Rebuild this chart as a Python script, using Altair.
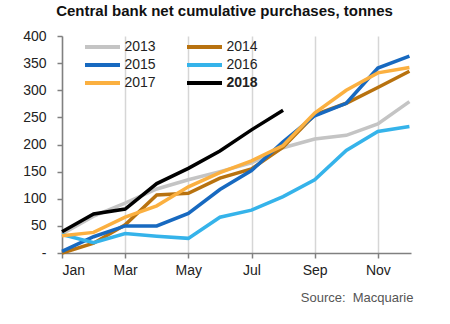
import altair as alt
import pandas as pd

months = ["Jan", "Feb", "Mar", "Apr", "May", "Jun", "Jul", "Aug", "Sep", "Oct", "Nov", "Dec"]
years = ["2013", "2014", "2015", "2016", "2017", "2018"]
colors = ["#c4c4c4", "#b8720f", "#1769c0", "#35b3ea", "#fbb040", "#000000"]

y2013 = [35, 68, 92, 118, 135, 150, 166, 194, 210, 217, 238, 279]
y2014 = [0, 18, 52, 107, 110, 138, 155, 195, 255, 276, 305, 335]
y2015 = [3, 30, 50, 50, 73, 117, 152, 205, 253, 276, 341, 363]
y2016 = [34, 19, 36, 31, 27, 66, 79, 104, 135, 189, 224, 233]
y2017 = [32, 38, 66, 87, 122, 148, 170, 198, 258, 300, 332, 342]
y2018 = [39, 72, 81, 128, 156, 188, 227, 263]

series = dict(zip(years, [y2013, y2014, y2015, y2016, y2017, y2018]))
rows = []
for yr, vals in series.items():
    for i, v in enumerate(vals):
        rows.append({"month": i + 1, "year": yr, "value": v})
df = pd.DataFrame(rows)

month_expr = "[" + ",".join("'%s'" % m for m in months) + "][datum.value - 1]"
FONT = "Liberation Sans"

chart = alt.Chart(df).mark_line(strokeWidth=3.5).encode(
    x=alt.X(
        "month:Q",
        scale=alt.Scale(domain=[1, 12.05], nice=False, zero=False),
        axis=alt.Axis(
            values=[1, 3, 5, 7, 9, 11],
            labelExpr=month_expr,
            grid=True,
            gridColor="#d6d6d6",
            gridWidth=1.5,
            domainColor="#808080",
            domainWidth=1.5,
            tickColor="#808080",
            tickSize=5,
            tickWidth=1.5,
            labelFont=FONT,
            labelFontSize=14,
            labelColor="#222222",
            labelPadding=5,
            title="Source:\u00a0 Macquarie",
            titleFont=FONT,
            titleFontSize=13,
            titleFontWeight="normal",
            titleColor="#555555",
            titleAnchor="end",
            titleAlign="right",
            titleX=351,
            titleY=48,
            titleBaseline="alphabetic",
        ),
    ),
    y=alt.Y(
        "value:Q",
        scale=alt.Scale(domain=[0, 400], nice=False),
        axis=alt.Axis(
            values=list(range(0, 401, 50)),
            labelExpr="datum.value == 0 ? '-' : datum.label",
            grid=False,
            domainColor="#808080",
            domainWidth=1.5,
            tickColor="#808080",
            tickSize=5,
            tickWidth=1.5,
            labelFont=FONT,
            labelFontSize=14,
            labelColor="#222222",
            labelPadding=11,
            title=None,
        ),
    ),
    color=alt.Color(
        "year:N",
        scale=alt.Scale(domain=years, range=colors),
        legend=alt.Legend(
            title=None,
            orient="none",
            direction="horizontal",
            legendX=23,
            legendY=2,
            columns=2,
            symbolType="M-2.5,0H2.5",
            symbolSize=196,
            symbolStrokeWidth=4,
            symbolOffset=8.5,
            labelFont=FONT,
            labelFontSize=14,
            labelColor="#222222",
            labelOffset=13,
            labelFontWeight=alt.ExprRef("datum.label == '2018' ? 'bold' : 'normal'"),
            columnPadding=23,
            rowPadding=1,
            padding=0,
        ),
    ),
).properties(
    width=349,
    height=217,
    autosize="none",
    padding={"left": 62, "top": 36, "right": 39, "bottom": 71},
    title=alt.TitleParams(
        "Central bank net cumulative purchases, tonnes",
        font=FONT,
        fontSize=15,
        fontWeight="bold",
        color="#111111",
        anchor="middle",
        dx=-12,
        offset=10,
    ),
).configure_view(stroke=None)

chart.save("out.html", embed_options={"renderer": "svg", "actions": False})
